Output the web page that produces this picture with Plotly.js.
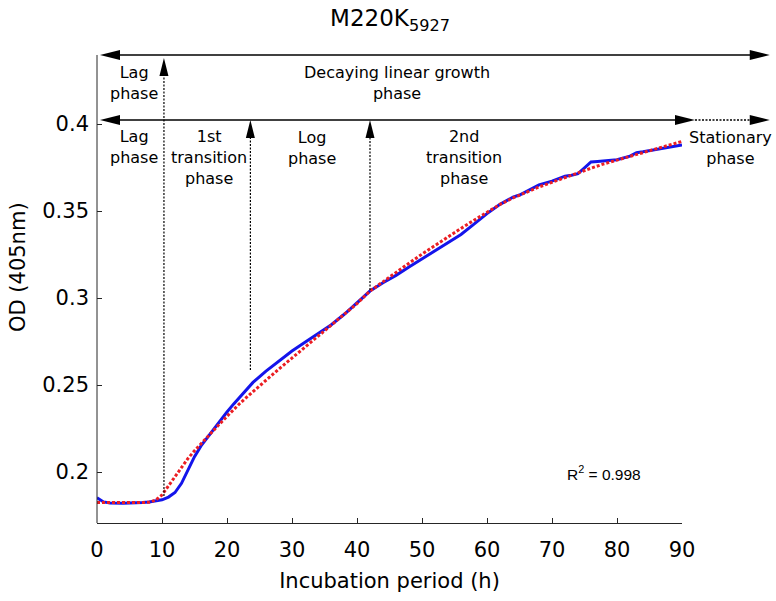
<!DOCTYPE html>
<html><head><meta charset="utf-8">
<script src="https://cdn.plot.ly/plotly-3.0.1.min.js"></script>
<style>html,body{margin:0;padding:0;background:#fff}#chart{width:776px;height:601px}</style>
</head><body><div id="chart"></div>
<script>
// ---- data ----
const hoursMeasured = [0,0.5,1,2,3,4,5,6,7,8,9,10,11,12,13,14,15,16,17,18,19,20,21,22,23,24,26,28,30,32,34,36,38,40,42,44,46,48,50,52,54,56,58,60,62,63,64,65,66,67,68,70,72,73,74,75,76,77,78,80,82,83,84,86,88,90];
const odMeasured = [0.1852,0.1838,0.1828,0.1822,0.1820,0.1821,0.1822,0.1822,0.1824,0.1827,0.1832,0.1840,0.1856,0.1882,0.1935,0.2010,0.2088,0.2150,0.2200,0.2250,0.2300,0.2345,0.2390,0.2433,0.2475,0.2515,0.2580,0.2640,0.2695,0.2745,0.2795,0.2845,0.2905,0.2975,0.3040,0.3088,0.3130,0.3178,0.3225,0.3268,0.3320,0.3365,0.3425,0.3485,0.3538,0.3560,0.3580,0.3592,0.3612,0.3632,0.3650,0.3672,0.3700,0.3706,0.3715,0.3748,0.3782,0.3785,0.3788,0.3795,0.3815,0.3835,0.3840,0.3853,0.3866,0.3880];
const hoursFit = [0,2,4,6,8,9,10,11,12,13,14,15,16,17,18,20,22,24,26,28,30,32,34,36,38,40,42,44,46,48,50,52,54,56,58,60,62,64,66,68,70,72,74,76,78,80,82,84,86,88,90];
const odFit = [0.1825,0.1824,0.1824,0.1824,0.1826,0.1838,0.1868,0.1920,0.1978,0.2030,0.2078,0.2122,0.2163,0.2203,0.2242,0.2320,0.2395,0.2462,0.2529,0.2592,0.2655,0.2718,0.2780,0.2843,0.2905,0.2968,0.3040,0.3095,0.3148,0.3200,0.3252,0.3303,0.3352,0.3400,0.3447,0.3493,0.3538,0.3575,0.3608,0.3638,0.3665,0.3693,0.3720,0.3746,0.3771,0.3793,0.3815,0.3837,0.3858,0.3879,0.3900];
const xTickVals = [0,10,20,30,40,50,60,70,80,90];
const yTickVals = [0.2,0.25,0.3,0.35,0.4];
const yTickText = ['0.2','0.25','0.3','0.35','0.4'];
const boundaryHours = [10.3, 23.6, 42.0];      // phase boundaries (h)
const boundaryBaseOD = [0.1862, 0.2586, 0.3046];
const r2Text = 'R<sup>2</sup> = 0.998';

// ---- layout constants ----
const FONT = 'DejaVu Sans, Verdana, sans-serif';
const Y_MIN = 0.17069, Y_MAX = 0.45115;
const X_MAX_FULL = 679 / 6.5;          // full-width helper axis
const X_DOMAIN_END = 585 / 679;        // axis 0..90 ends at px 682
const TOP_Y = 0.43966, MID_Y = 0.4023, TIP1_Y = 0.43793;
const LEFT_TIP = 0.46, SOLID_TIP = 92.0, RIGHT_TIP = 103.5;

const traces = [
  {x: hoursMeasured, y: odMeasured, type: 'scatter', mode: 'lines', xaxis: 'x', yaxis: 'y',
   line: {color: 'rgb(20,20,235)', width: 3}, hoverinfo: 'skip'},
  {x: hoursFit, y: odFit, type: 'scatter', mode: 'lines', xaxis: 'x', yaxis: 'y',
   line: {color: 'rgb(235,30,35)', width: 3, dash: '3px,2px'}, hoverinfo: 'skip'},
  {x: [], y: [], type: 'scatter', mode: 'lines', xaxis: 'x2', yaxis: 'y', hoverinfo: 'skip'}
];

const K = 'rgb(0,0,0)';
function line(x0, y0, x1, y1, w, dash) {
  return {type: 'line', xref: 'x2', yref: 'y', x0, y0, x1, y1, layer: 'above',
          line: {color: K, width: w, dash: dash || 'solid'}};
}
function head(x, y, dir, len, half) {
  const L = len || 20, H = half || 5;
  let p;
  if (dir === 'right') p = `M0,0L${-L},${H}L${-L},${-H}Z`;
  else if (dir === 'left') p = `M0,0L${L},${H}L${L},${-H}Z`;
  else p = `M0,0L${-H},${-L}L${H},${-L}Z`;
  return {type: 'path', xref: 'x2', yref: 'y', xsizemode: 'pixel', ysizemode: 'pixel',
          xanchor: x, yanchor: y, path: p, fillcolor: K, line: {width: 0}, layer: 'above'};
}

const shapes = [
  {type: 'line', xref: 'paper', yref: 'paper', x0: 0, x1: 0, y0: 0,
   y1: (TOP_Y - Y_MIN) / (Y_MAX - Y_MIN), line: {color: '#262626', width: 1}},
  line(LEFT_TIP + 2, TOP_Y, RIGHT_TIP - 2, TOP_Y, 1.7),
  head(LEFT_TIP, TOP_Y, 'left'), head(RIGHT_TIP, TOP_Y, 'right'),
  line(LEFT_TIP + 2, MID_Y, SOLID_TIP - 2, MID_Y, 1.7),
  line(SOLID_TIP, MID_Y, RIGHT_TIP - 2, MID_Y, 1.5, '2px,1.5px'),
  head(LEFT_TIP, MID_Y, 'left'), head(SOLID_TIP, MID_Y, 'right'), head(RIGHT_TIP, MID_Y, 'right'),
  line(boundaryHours[0], boundaryBaseOD[0], boundaryHours[0], TIP1_Y - 0.008, 1.2, '2px,1.5px'),
  head(boundaryHours[0], TIP1_Y, 'up', 18, 4.5),
  line(boundaryHours[1], boundaryBaseOD[1], boundaryHours[1], MID_Y - 0.008, 1.2, '2px,1.5px'),
  head(boundaryHours[1], MID_Y, 'up', 18, 4.5),
  line(boundaryHours[2], boundaryBaseOD[2], boundaryHours[2], MID_Y - 0.008, 1.2, '2px,1.5px'),
  head(boundaryHours[2], MID_Y, 'up', 18, 4.5)
];

function label(text, x, y, size, fam) {
  return {text, x, y, xref: 'x2', yref: 'y', showarrow: false, xanchor: 'center', yanchor: 'middle',
          align: 'center', font: {family: fam || FONT, size: size || 16, color: '#000'}};
}
const annotations = [
  label('Lag<br>phase', 5.7, 0.4233),
  label('Decaying linear growth<br>phase', 46.1, 0.4236),
  label('Lag<br>phase', 5.7, 0.3865),
  label('1st<br>transition<br>phase', 17.2, 0.3807),
  label('Log<br>phase', 33.15, 0.3862),
  label('2nd<br>transition<br>phase', 56.5, 0.3805),
  label('Stationary<br>phase', 97.5, 0.3862),
  label(r2Text, 78.0, 0.1994, 15.5, 'Liberation Sans, Arial, sans-serif'),
  {text: 'OD (405nm)', xref: 'paper', x: (18 - 97) / 679, yref: 'y', y: 0.3178, textangle: -90,
   showarrow: false, xanchor: 'center', yanchor: 'middle', font: {family: FONT, size: 21, color: '#000'}}
];

const layout = {
  width: 776, height: 601,
  margin: {l: 97, r: 0, t: 35, b: 78, pad: 0},
  paper_bgcolor: '#fff', plot_bgcolor: 'rgba(0,0,0,0)',
  showlegend: false,
  font: {family: FONT, color: '#000'},
  title: {text: 'M220K<sub>5927</sub>', font: {family: FONT, size: 23, color: '#000'},
          xref: 'container', x: 390 / 776, xanchor: 'center',
          yref: 'container', y: 1 - 18 / 601, yanchor: 'middle'},
  xaxis: {domain: [0, X_DOMAIN_END], range: [0, 90], anchor: 'y',
          showline: true, linecolor: '#262626', linewidth: 1,
          ticks: 'inside', ticklen: 5, tickcolor: '#262626', tickwidth: 1,
          tickvals: xTickVals, showgrid: false, zeroline: false, ticklabelstandoff: 8,
          tickfont: {family: FONT, size: 21, color: '#000'},
          title: {text: 'Incubation period (h)', font: {family: FONT, size: 21, color: '#000'}, standoff: 12}},
  xaxis2: {domain: [0, 1], range: [0, X_MAX_FULL], anchor: 'y', visible: false, fixedrange: true},
  yaxis: {range: [Y_MIN, Y_MAX], domain: [0, 1], anchor: 'x',
          showline: false, ticks: 'inside', ticklen: 5, tickcolor: '#262626', tickwidth: 1,
          tickvals: yTickVals, ticktext: yTickText, showgrid: false, zeroline: false, ticklabelstandoff: 7,
          tickfont: {family: FONT, size: 21, color: '#000'}},
  shapes, annotations
};

Plotly.newPlot('chart', traces, layout, {staticPlot: true, displayModeBar: false});
</script>
</body></html>
